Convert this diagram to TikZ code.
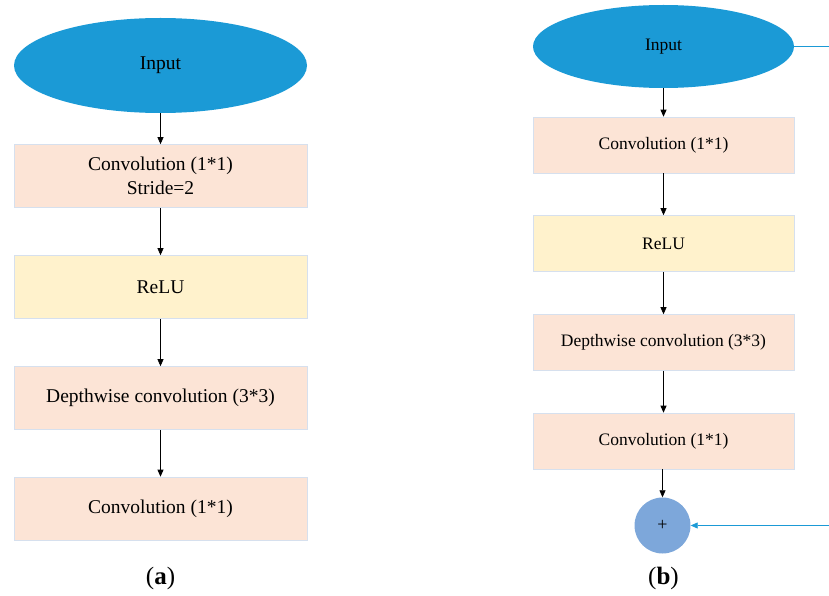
\documentclass[tikz,border=0pt]{standalone}
\usepackage{fontspec}
\setmainfont{Liberation Serif}
\usetikzlibrary{shapes.geometric}
\usetikzlibrary{arrows.meta, positioning}
\definecolor{inputBlue}{RGB}{27, 154, 214}
\definecolor{convPeach}{RGB}{252, 228, 214}
\definecolor{reluYellow}{RGB}{255, 242, 204}
\definecolor{addBlue}{RGB}{125, 167, 218}
\definecolor{boxEdge}{RGB}{214, 224, 238}
\tikzset{
    inputnode/.style={ellipse, fill=inputBlue, draw=none},
    convbox/.style={rectangle, fill=convPeach, draw=boxEdge, line width=0.6pt, align=center},
    relubox/.style={rectangle, fill=reluYellow, draw=boxEdge, line width=0.6pt, align=center},
    addnode/.style={circle, fill=addBlue, draw=none, minimum size=56pt, inner sep=0pt},
    flow/.style={-{Triangle[length=7pt,width=6pt]}, line width=0.7pt, black},
    skip/.style={line width=0.8pt, inputBlue},
    bigtext/.style={font=\fontsize{19.5}{24}\selectfont},
    smalltext/.style={font=\fontsize{17.5}{21}\selectfont},
    caption/.style={font=\fontsize{25}{30}\selectfont}
}

\begin{document}
\begin{tikzpicture}[x=1pt, y=-1pt]
    \useasboundingbox (0,0) rectangle (829,596);

    % Left block (a)
    \begin{scope}[bigtext]
        \node[inputnode, minimum width=293pt, minimum height=95pt] (inA) at (160.5,65.5) {Input};
        \node[convbox, minimum width=293pt, minimum height=63pt] (convA) at (160.5,176) {Convolution (1*1)\\Stride=2};
        \node[relubox, minimum width=293pt, minimum height=63pt] (reluA) at (160.5,287) {ReLU};
        \node[convbox, minimum width=293pt, minimum height=63pt] (dwA) at (160.5,398) {Depthwise convolution (3*3)};
        \node[convbox, minimum width=293pt, minimum height=63pt] (pwA) at (160.5,508.5) {Convolution (1*1)};
    \end{scope}
    \draw[flow] (inA) -- (convA);
    \draw[flow] (convA) -- (reluA);
    \draw[flow] (reluA) -- (dwA);
    \draw[flow] (dwA) -- (pwA);
    \node[caption] (capA) at (160.5,578) {(\textbf{a})};

    % Right block (b)
    \begin{scope}[smalltext]
        \node[inputnode, minimum width=261pt, minimum height=83pt] (inB) at (663.5,46.5) {Input};
        \node[convbox, minimum width=261pt, minimum height=56pt] (convB) at (663.5,145) {Convolution (1*1)};
        \node[relubox, minimum width=261pt, minimum height=56pt] (reluB) at (663.5,243.5) {ReLU};
        \node[convbox, minimum width=261pt, minimum height=56pt] (dwB) at (663.5,342.5) {Depthwise convolution (3*3)};
        \node[convbox, minimum width=261pt, minimum height=56pt] (pwB) at (663.5,441) {Convolution (1*1)};
    \end{scope}
    \node[addnode, font=\fontsize{18}{21}\selectfont] (addB) at (662.5,525.5) {+};
    \draw[flow] (inB) -- (convB);
    \draw[flow] (convB) -- (reluB);
    \draw[flow] (reluB) -- (dwB);
    \draw[flow] (dwB) -- (pwB);
    \draw[flow] (pwB.south -| addB) -- (addB);

    % Shortcut branch leaving the picture
    \coordinate (skipOut) at (829,46.5);
    \coordinate (skipIn) at (829,525.5);
    \draw[skip] (inB) -- (skipOut);
    \draw[skip, -{Triangle[length=7pt,width=6pt]}] (skipIn) -- (addB);
    \node[caption] (capB) at (663.5,578) {(\textbf{b})};
\end{tikzpicture}
\end{document}
